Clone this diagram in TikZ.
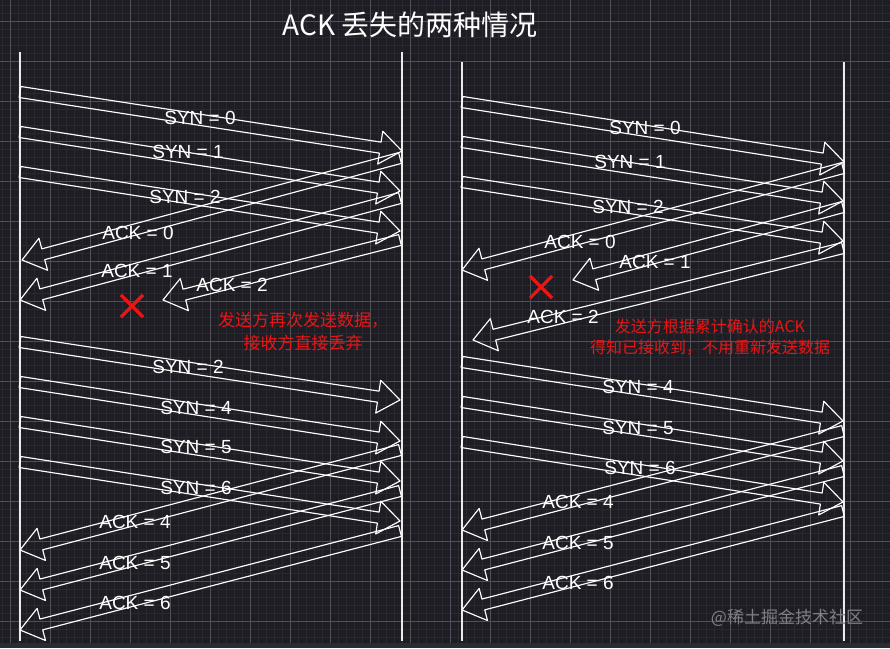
\documentclass[tikz,border=0pt]{standalone}
\usepackage{fontspec}
\setmainfont{Noto Sans CJK SC}
\newfontfamily\handfont{Liberation Sans}
\usetikzlibrary{shapes.arrows, shapes.misc, calc, positioning}
\definecolor{cbg}{RGB}{30,29,36}
\definecolor{cminor}{RGB}{42,41,50}
\definecolor{cmajor}{RGB}{80,80,88}
\definecolor{cband}{RGB}{44,42,50}
\definecolor{cred}{RGB}{232,22,22}
\definecolor{cmark}{RGB}{128,128,134}

% fat outlined message arrow between two named points
\newcommand{\msg}[3]{%
  \coordinate (#1-a) at (#2);
  \coordinate (#1-b) at (#3);
  \path let \p1=($(#1-b)-(#1-a)$), \n1={atan2(\y1,\x1)}, \n2={veclen(\x1,\y1)} in
    node[msgarrow, minimum height=\n2, rotate=\n1, anchor=tail] (#1) at (#1-a) {};%
}

\begin{document}
\begin{tikzpicture}[
    x=1pt, y=-1pt,
    lifeline/.style={draw=white!92!black, line width=1.2pt},
    msgarrow/.style={single arrow, draw=white, line width=1.15pt, line join=round, inner xsep=0pt, inner ysep=5pt, outer sep=0pt, single arrow head extend=11pt, single arrow tip angle=74},
    msglabel/.style={text=white, font=\handfont\fontsize{19}{19}\selectfont, inner sep=0pt},
    note/.style={text=cred, align=center, font=\fontsize{16}{21}\selectfont, inner sep=0pt},
    lostmark/.style={cross out, draw=cred, line width=3.2pt, minimum size=19pt, inner sep=0pt},
    title/.style={text=white, font=\fontsize{28}{28}\selectfont, inner sep=0pt}
]

\useasboundingbox (0,0) rectangle (890,648);
\fill[cbg] (0,0) rectangle (890,648);
\begin{scope}
\clip (0,0) rectangle (890,642);
\begin{scope}[shift={(2,5)}]
\draw[cminor, line width=0.6pt, step=8pt] (-8,-8) grid (896,656);
\end{scope}
\begin{scope}[shift={(10,21)}]
\draw[cmajor, line width=0.8pt, step=40pt] (-40,-40) grid (920,680);
\end{scope}
\end{scope}
\fill[cband] (0,643) rectangle (890,648);

\node[title] (ttl) at (410,25) {ACK 丢失的两种情况};

% lifelines
\draw[lifeline] (20,52) -- (20,641);
\draw[lifeline] (402,52) -- (402,641);
\draw[lifeline] (462,62) -- (462,641);
\draw[lifeline] (844,62) -- (844,641);

% left: ACK lost, data sent again
\msg{lsyn0}{20,92}{402,151}
\msg{lsyn1}{20,132}{400,191}
\msg{lsyn2}{20,172}{400,231}
\msg{lack0}{400,158}{22,260}
\msg{lack1}{400,198}{20,300}
\msg{lack2}{400,240}{163,300}
\msg{lsyn2r}{20,342}{400,400}
\msg{lsyn4}{20,382}{400,441}
\msg{lsyn5}{20,422}{400,481}
\msg{lsyn6}{20,462}{400,521}
\msg{lack4}{400,450}{20,550}
\msg{lack5}{400,491}{20,590}
\msg{lack6}{400,531}{20,630}

\node[msglabel] (tsyn0) at (200,118) {SYN = 0};
\node[msglabel] (tsyn1) at (188,152) {SYN = 1};
\node[msglabel] (tsyn2) at (185,197) {SYN = 2};
\node[msglabel] (tack0) at (138,233) {ACK = 0};
\node[msglabel] (tack1) at (137,271) {ACK = 1};
\node[msglabel] (tack2) at (232,285) {ACK = 2};
\node[msglabel] (tsyn2r) at (188,367) {SYN = 2};
\node[msglabel] (tsyn4) at (196,408) {SYN = 4};
\node[msglabel] (tsyn5) at (196,447) {SYN = 5};
\node[msglabel] (tsyn6) at (196,488) {SYN = 6};
\node[msglabel] (tack4) at (135,522) {ACK = 4};
\node[msglabel] (tack5) at (135,563) {ACK = 5};
\node[msglabel] (tack6) at (135,603) {ACK = 6};

\node[lostmark] (lostL) at (132,306) {};
\node[note, font=\fontsize{17}{23}\selectfont] (noteL) at (303,331) {发送方再次发送数据，\\接收方直接丢弃};

% right: ACK lost, cumulative ACK covers it
\msg{rsyn0}{462,102}{844,162}
\msg{rsyn1}{462,142}{843,201}
\msg{rsyn2}{462,182}{843,241}
\msg{rack0}{843,168}{462,270}
\msg{rack1}{843,207}{573,280}
\msg{rack2}{843,248}{473,340}
\msg{rsyn4}{462,362}{843,421}
\msg{rsyn5}{462,402}{843,461}
\msg{rsyn6}{462,442}{843,502}
\msg{rack4}{843,431}{462,530}
\msg{rack5}{843,471}{462,570}
\msg{rack6}{843,511}{462,610}

\node[msglabel] (usyn0) at (645,128) {SYN = 0};
\node[msglabel] (usyn1) at (630,162) {SYN = 1};
\node[msglabel] (usyn2) at (628,207) {SYN = 2};
\node[msglabel] (uack0) at (580,242) {ACK = 0};
\node[msglabel] (uack1) at (655,262) {ACK = 1};
\node[msglabel] (uack2) at (563,317) {ACK = 2};
\node[msglabel] (usyn4) at (638,387) {SYN = 4};
\node[msglabel] (usyn5) at (638,428) {SYN = 5};
\node[msglabel] (usyn6) at (640,468) {SYN = 6};
\node[msglabel] (uack4) at (578,502) {ACK = 4};
\node[msglabel] (uack5) at (578,543) {ACK = 5};
\node[msglabel] (uack6) at (578,583) {ACK = 6};

\node[lostmark] (lostR) at (541,287) {};
\node[note] (noteR) at (710,337) {发送方根据累计确认的ACK\\得知已接收到，不用重新发送数据};

\node[text=cmark, font=\fontsize{17}{17}\selectfont, inner sep=0pt] (mark) at (787,618) {@稀土掘金技术社区};

\end{tikzpicture}
\end{document}
